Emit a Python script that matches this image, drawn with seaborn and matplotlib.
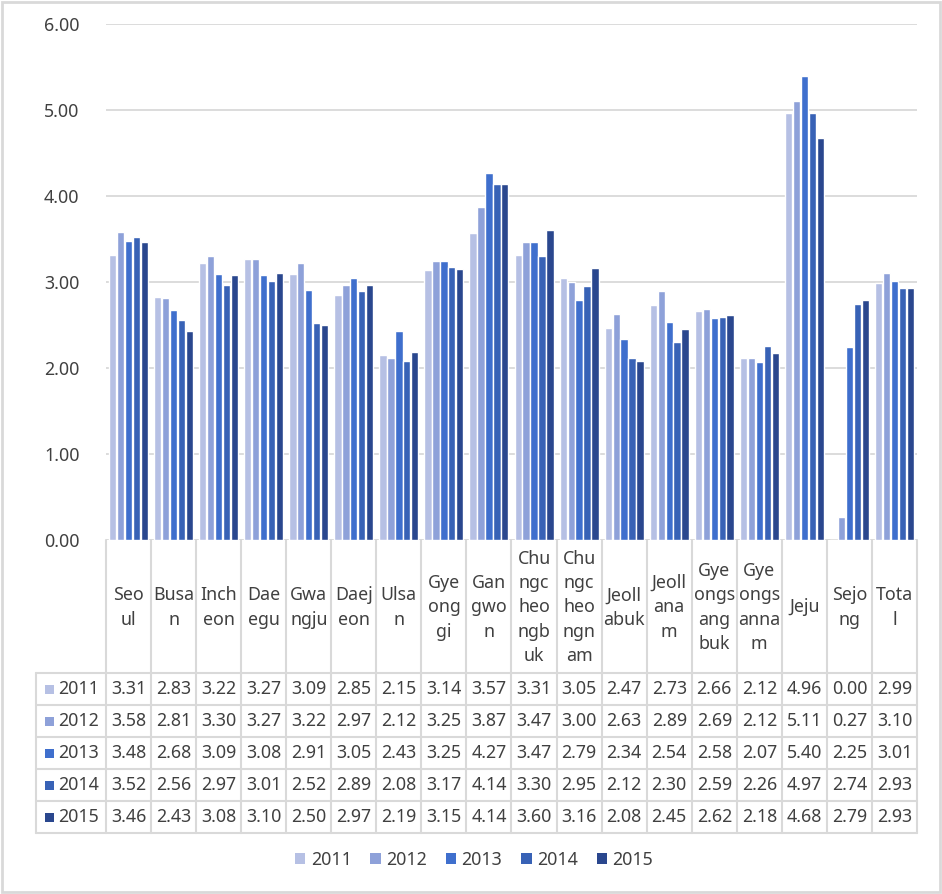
import numpy as np
import pandas as pd
import seaborn as sns
import matplotlib.pyplot as plt
from matplotlib.lines import Line2D
from matplotlib.patches import Rectangle
from matplotlib.transforms import blended_transform_factory

regions = ["Seoul", "Busan", "Incheon", "Daegu", "Gwangju", "Daejeon", "Ulsan",
           "Gyeonggi", "Gangwon", "Chungcheongbuk", "Chungcheongnam", "Jeollabuk",
           "Jeollanam", "Gyeongsangbuk", "Gyeongsangnam", "Jeju", "Sejong", "Total"]
# labels as they wrap inside the narrow table cells
region_labels = ["Seo\nul", "Busa\nn", "Inch\neon", "Dae\negu", "Gwa\nngju", "Daej\neon",
                 "Ulsa\nn", "Gye\nong\ngi", "Gan\ngwo\nn", "Chu\nngc\nheo\nngb\nuk",
                 "Chu\nngc\nheo\nngn\nam", "Jeoll\nabuk", "Jeoll\nana\nm",
                 "Gye\nongs\nang\nbuk", "Gye\nongs\nanna\nm", "Jeju", "Sejo\nng", "Tota\nl"]
years = ["2011", "2012", "2013", "2014", "2015"]
v2011 = [3.31, 2.83, 3.22, 3.27, 3.09, 2.85, 2.15, 3.14, 3.57, 3.31, 3.05, 2.47, 2.73, 2.66, 2.12, 4.96, 0.00, 2.99]
v2012 = [3.58, 2.81, 3.30, 3.27, 3.22, 2.97, 2.12, 3.25, 3.87, 3.47, 3.00, 2.63, 2.89, 2.69, 2.12, 5.11, 0.27, 3.10]
v2013 = [3.48, 2.68, 3.09, 3.08, 2.91, 3.05, 2.43, 3.25, 4.27, 3.47, 2.79, 2.34, 2.54, 2.58, 2.07, 5.40, 2.25, 3.01]
v2014 = [3.52, 2.56, 2.97, 3.01, 2.52, 2.89, 2.08, 3.17, 4.14, 3.30, 2.95, 2.12, 2.30, 2.59, 2.26, 4.97, 2.74, 2.93]
v2015 = [3.46, 2.43, 3.08, 3.10, 2.50, 2.97, 2.19, 3.15, 4.14, 3.60, 3.16, 2.08, 2.45, 2.62, 2.18, 4.68, 2.79, 2.93]
series = [v2011, v2012, v2013, v2014, v2015]
colors = ["#B6C0E4", "#8EA1D9", "#3F6FCD", "#3862B6", "#2A478E"]

rows = []
for y, vals in zip(years, series):
    for r, v in zip(regions, vals):
        rows.append({"region": r, "year": y, "value": v})
df = pd.DataFrame(rows)

sns.set_style("white")
plt.rcParams['font.family'] = ['Noto Sans', 'DejaVu Sans']
txt = "#404040"
line_c = "#D9D9D9"
fs = 12.8

W, H = 942, 894
fig = plt.figure(figsize=(W / 100, H / 100), dpi=100)
left, right, top, bottom = 106, 917, 24, 540
ax = fig.add_axes([left / W, 1 - bottom / H, (right - left) / W, (bottom - top) / H])

sns.barplot(data=df, x="region", y="value", hue="year", order=regions, hue_order=years,
            palette=colors, width=0.88, gap=0.08, saturation=1, legend=False, ax=ax)

ax.set_xlim(-0.5, len(regions) - 0.5)
ax.set_ylim(0, 6)
ax.set_yticks(np.arange(0, 7, 1))
ax.set_yticklabels([f"{t:.2f}" for t in np.arange(0, 7, 1)], fontsize=fs, color=txt)
ax.tick_params(axis="y", length=0, pad=19)
ax.set_xticks([])
ax.set_xlabel("")
ax.set_ylabel("")
ax.yaxis.grid(True, color=line_c, lw=1.3)
ax.set_axisbelow(True)
for s in ax.spines.values():
    s.set_visible(False)

# data table under the plot
tr = blended_transform_factory(ax.transData, fig.transFigure)
fy = lambda p: 1 - p / H
fx = lambda p: p / W
row_top = 673
row_h = 32
tbl_left = 36

# vertical lines between categories
for i in range(len(regions) + 1):
    fig.add_artist(Line2D([i - 0.5, i - 0.5], [fy(bottom), fy(row_top + 5 * row_h)],
                          transform=tr, color=line_c, lw=1.5))
fig.add_artist(Line2D([fx(tbl_left), fx(tbl_left)], [fy(row_top), fy(row_top + 5 * row_h)],
                      transform=fig.transFigure, color=line_c, lw=1.5))
for k in range(6):
    yy = fy(row_top + k * row_h)
    fig.add_artist(Line2D([fx(tbl_left), fx(right)], [yy, yy],
                          transform=fig.transFigure, color=line_c, lw=1.5))

for i, lab in enumerate(region_labels):
    fig.text(i, fy((bottom + row_top) / 2 + 1), lab, transform=tr, ha="center", va="center",
             fontsize=fs, color=txt, linespacing=1.45)

for k, (y, vals, c) in enumerate(zip(years, series, colors)):
    yc = fy(row_top + k * row_h + row_h / 2)
    fig.add_artist(Rectangle((fx(45), yc - 4.5 / H), 9 / W, 9 / H,
                             transform=fig.transFigure, color=c, lw=0))
    fig.text(fx(58), yc, y, ha="left", va="center", fontsize=fs, color=txt)
    for i, v in enumerate(vals):
        fig.text(i, yc, f"{v:.2f}", transform=tr, ha="center", va="center",
                 fontsize=fs, color=txt)

# legend
handles = [Rectangle((0, 0), 1, 1, color=c, lw=0) for c in colors]
fig.legend(handles, years, loc="center", bbox_to_anchor=(fx(474), fy(860)), ncol=5,
           frameon=False, fontsize=fs, handlelength=0.6, handleheight=0.6,
           handletextpad=0.3, columnspacing=1.05, labelcolor=txt)

# outer frame
fig.add_artist(Rectangle((0.002, 0.002), 0.996, 0.996, transform=fig.transFigure,
                         fill=False, ec=line_c, lw=2))

fig.savefig("out.png", dpi=100, facecolor="white")
